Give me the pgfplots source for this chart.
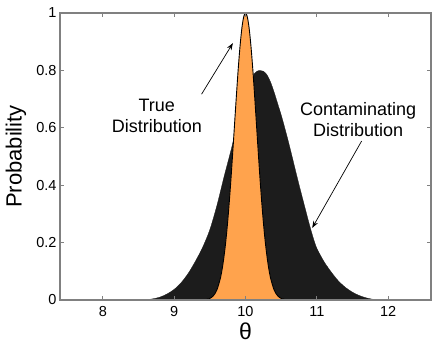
\documentclass[border=0pt]{standalone}
\usepackage{fontspec}
\setmainfont{Liberation Sans}
\usepackage{pgfplots}
\pgfplotsset{compat=1.18}
\usetikzlibrary{arrows.meta}

\definecolor{truefill}{RGB}{255,163,77}
\definecolor{contfill}{RGB}{28,28,28}
\definecolor{axisgray}{RGB}{128,128,128}

\begin{document}
\begin{tikzpicture}
\begin{axis}[
  width=371pt, height=287pt, scale only axis,
  xmin=7.4, xmax=12.6, ymin=0, ymax=1,
  xtick={8,9,10,11,12},
  ytick={0,0.2,0.4,0.6,0.8,1},
  yticklabels={0,0.2,0.4,0.6,0.8,1},
  tick align=inside,
  major tick length=4pt,
  axis line style={axisgray, line width=1.1pt},
  every tick/.style={axisgray, line width=0.8pt},
  axis on top,
  /pgf/number format/assume math mode=true,
  tick label style={font=\fontsize{14.5}{16}\selectfont, black},
  xticklabel style={yshift=-3pt},
  xlabel={θ},
  ylabel={Probability},
  x label style={font=\fontsize{23}{24}\selectfont, at={(axis description cs:0.5,-0.108)}, anchor=center},
  y label style={font=\fontsize{22}{24}\selectfont, at={(axis description cs:-0.119,0.5)}, anchor=center},
]
% contaminating distribution
\addplot[fill=contfill, draw=contfill, line width=0.3pt, smooth, tension=0.5] coordinates {
  (8.55,0) (8.6,0.001) (8.7,0.004) (8.8,0.010) (8.9,0.021) (9.0,0.037)
  (9.1,0.061) (9.2,0.094) (9.3,0.136) (9.4,0.184) (9.5,0.245)
  (9.6,0.33) (9.7,0.43) (9.8,0.525) (9.9,0.625) (10.0,0.71)
  (10.1,0.778) (10.15,0.795) (10.2,0.80) (10.25,0.797) (10.3,0.785)
  (10.35,0.76) (10.4,0.725) (10.45,0.685) (10.5,0.645) (10.55,0.60)
  (10.6,0.553) (10.65,0.503) (10.7,0.452) (10.75,0.402) (10.8,0.354)
  (10.85,0.306) (10.9,0.259) (10.95,0.216) (11.0,0.18) (11.1,0.134)
  (11.2,0.098) (11.3,0.067) (11.4,0.044) (11.5,0.027) (11.6,0.015)
  (11.7,0.007) (11.8,0.002) (11.9,0)
} \closedcycle;
% true distribution
\addplot[fill=truefill, draw=black, line width=0.9pt, smooth] coordinates {
  (9.4,0.0006) (9.45,0.0018) (9.5,0.0055) (9.55,0.0148) (9.6,0.0358)
  (9.65,0.078) (9.675,0.111) (9.7,0.154) (9.725,0.207) (9.75,0.272)
  (9.775,0.349) (9.8,0.435) (9.825,0.529) (9.85,0.626) (9.875,0.722)
  (9.9,0.812) (9.925,0.889) (9.95,0.949) (9.975,0.987) (10.0,1.0)
  (10.025,0.987) (10.05,0.949) (10.075,0.889) (10.1,0.812)
  (10.125,0.722) (10.15,0.626) (10.175,0.529) (10.2,0.435)
  (10.225,0.349) (10.25,0.272) (10.275,0.207) (10.3,0.154)
  (10.325,0.111) (10.35,0.078) (10.4,0.0358) (10.45,0.0148)
  (10.5,0.0055) (10.55,0.0018) (10.6,0.0006)
} \closedcycle;

\node[align=center, font=\fontsize{18}{21}\selectfont] at (axis cs:8.757,0.643) {True\\Distribution};
\node[align=center, font=\fontsize{18}{21}\selectfont] at (axis cs:11.58,0.63) {Contaminating\\Distribution};
\draw[-{Stealth[length=7pt,width=5pt]}, line width=0.7pt] (axis cs:9.384,0.717) -- (axis cs:9.823,0.895);
\draw[-{Stealth[length=7pt,width=5pt]}, line width=0.7pt] (axis cs:11.628,0.554) -- (axis cs:10.935,0.251);
\end{axis}
\path (current axis.south west) +(-60pt,-46pt) (current axis.north east) +(5pt,13pt);
\end{tikzpicture}
\end{document}
